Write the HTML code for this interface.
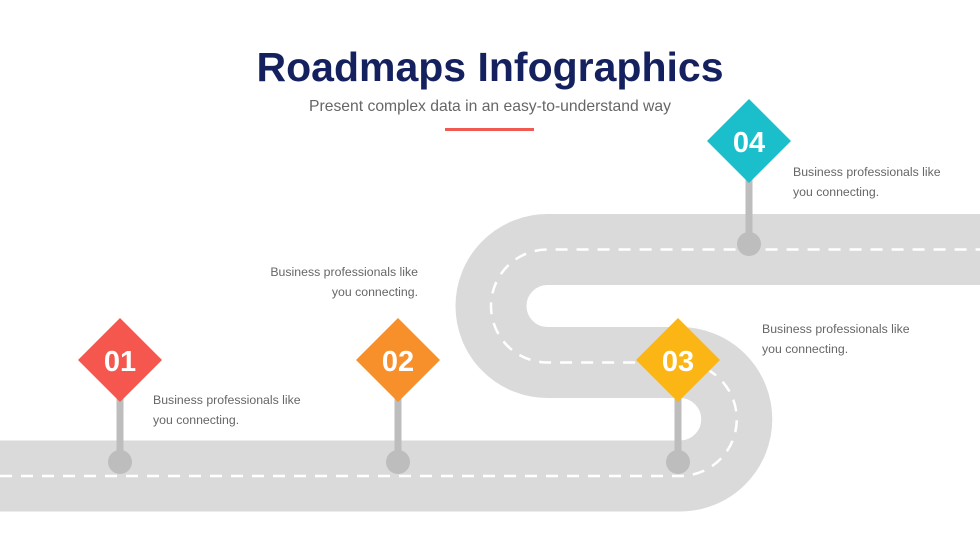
<!DOCTYPE html>
<html><head><meta charset="utf-8"><style>
body{margin:0;width:980px;height:551px;background:#fff;overflow:hidden;position:relative;font-family:"Liberation Sans",sans-serif}
.t{position:absolute;left:0;width:980px;text-align:center}
.lab{position:absolute;font-size:12.3px;line-height:20px;color:#666}
</style></head><body>
<div class="t" style="top:44px;font-size:41px;font-weight:bold;color:#14215e">Roadmaps Infographics</div>
<div class="t" style="top:98px;font-size:15.7px;color:#666">Present complex data in an easy-to-understand way</div>
<div style="position:absolute;left:445px;top:128px;width:89px;height:3px;background:#f05a50"></div>
<svg width="980" height="551" style="position:absolute;left:0;top:0">
<path d="M-10 476 H680 A56.75 56.75 0 0 0 680 362.5 H547.5 A56.5 56.5 0 0 1 547.5 249.5 H990" fill="none" stroke="#dadada" stroke-width="71"/>
<path d="M0 476 H680 A56.75 56.75 0 0 0 680 362.5 H547.5 A56.5 56.5 0 0 1 547.5 249.5 H990" fill="none" stroke="#fff" stroke-width="2.5" stroke-dasharray="12 9"/>
<g fill="#bdbdbd">
<rect x="116.5" y="390" width="7" height="72"/><circle cx="120" cy="462" r="12"/>
<rect x="394.5" y="390" width="7" height="72"/><circle cx="398" cy="462" r="12"/>
<rect x="674.5" y="390" width="7" height="72"/><circle cx="678" cy="462" r="12"/>
<rect x="745.5" y="170" width="7" height="74"/><circle cx="749" cy="244" r="12"/>
</g>
<g font-family="Liberation Sans" font-weight="bold" font-size="29" fill="#fff" text-anchor="middle">
<polygon points="120,318 162,360 120,402 78,360" fill="#f5574f"/><text x="120" y="371">01</text>
<polygon points="398,318 440,360 398,402 356,360" fill="#f7902a"/><text x="398" y="371">02</text>
<polygon points="678,318 720,360 678,402 636,360" fill="#fbb514"/><text x="678" y="371">03</text>
<polygon points="749,99 791,141 749,183 707,141" fill="#1bbfcc"/><text x="749" y="152">04</text>
</g>
</svg>
<div class="lab" style="left:153px;top:390px">Business professionals like<br>you connecting.</div>
<div class="lab" style="left:218px;width:200px;text-align:right;top:262px">Business professionals like<br>you connecting.</div>
<div class="lab" style="left:762px;top:319px">Business professionals like<br>you connecting.</div>
<div class="lab" style="left:793px;top:162px">Business professionals like<br>you connecting.</div>
</body></html>
